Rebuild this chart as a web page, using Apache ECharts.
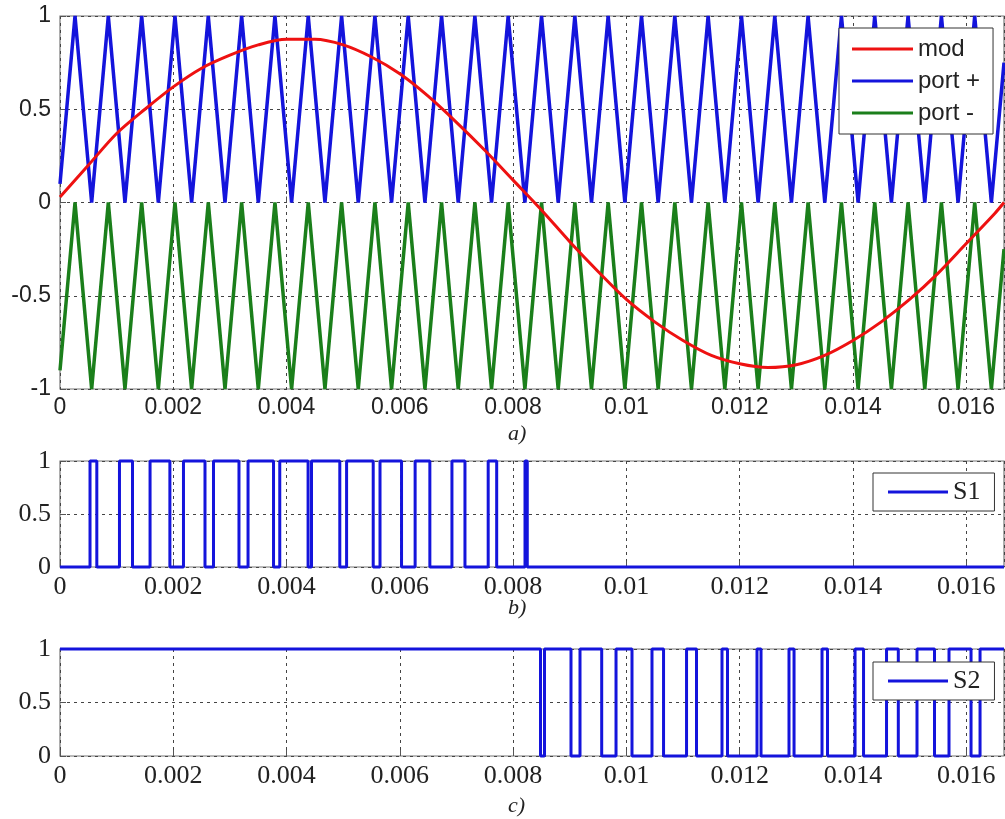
<!DOCTYPE html>
<html>
<head>
<meta charset="utf-8">
<title>PWM</title>
<script src="https://cdn.jsdelivr.net/npm/echarts@6/dist/echarts.min.js"></script>
<style>
  html, body { margin: 0; padding: 0; background: #fff; }
  #main { width: 1005px; height: 819px; }
</style>
</head>
<body>
<div id="main"></div>
<script>
// time axis (s), one period of 60 Hz
const T_END = 0.016667;
const xTicks = [0, 0.002, 0.004, 0.006, 0.008, 0.01, 0.012, 0.014, 0.016];

// modulating wave "mod"
const modT = [0, 0.0005, 0.001, 0.0015, 0.002, 0.0025, 0.003, 0.0035, 0.004, 0.0045,
  0.005, 0.0055, 0.006, 0.0065, 0.007, 0.0075, 0.008, 0.0085, 0.009, 0.0095,
  0.01, 0.0105, 0.011, 0.0115, 0.012, 0.0125, 0.013, 0.0135, 0.014, 0.0145,
  0.015, 0.0155, 0.016, 0.0165, 0.016667];
const modV = [0.03, 0.20, 0.37, 0.50, 0.62, 0.72, 0.79, 0.845, 0.875, 0.875,
  0.845, 0.78, 0.69, 0.57, 0.43, 0.28, 0.12, -0.04, -0.21, -0.37,
  -0.52, -0.64, -0.74, -0.82, -0.865, -0.885, -0.87, -0.82, -0.74, -0.64,
  -0.52, -0.38, -0.22, -0.06, 0.0];

// carrier corners (peaks / valleys)
const carrierT = [0,
  0.000265, 0.000559, 0.000853, 0.001147, 0.001442, 0.001736, 0.002030, 0.002324,
  0.002618, 0.002913, 0.003207, 0.003501, 0.003795, 0.004089, 0.004383, 0.004678,
  0.004972, 0.005266, 0.005560, 0.005854, 0.006148, 0.006443, 0.006737, 0.007031,
  0.007325, 0.007619, 0.007913, 0.008208, 0.008502, 0.008796, 0.009090, 0.009384,
  0.009678, 0.009973, 0.010267, 0.010561, 0.010855, 0.011149, 0.011443, 0.011738,
  0.012032, 0.012326, 0.012620, 0.012914, 0.013208, 0.013503, 0.013797, 0.014091,
  0.014385, 0.014679, 0.014973, 0.015268, 0.015562, 0.015856, 0.016150, 0.016444,
  0.016667];
const portPlusV = [0.1,
  1,0, 1,0, 1,0, 1,0, 1,0, 1,0, 1,0,
  1,0, 1,0, 1,0, 1,0, 1,0, 1,0, 1,0,
  1,0, 1,0, 1,0, 1,0, 1,0, 1,0, 1,0,
  1,0, 1,0, 1,0, 1,0, 1,0, 1,0, 1,0,
  0.75];
const portMinusV = [-0.9,
  0,-1, 0,-1, 0,-1, 0,-1, 0,-1, 0,-1, 0,-1,
  0,-1, 0,-1, 0,-1, 0,-1, 0,-1, 0,-1, 0,-1,
  0,-1, 0,-1, 0,-1, 0,-1, 0,-1, 0,-1, 0,-1,
  0,-1, 0,-1, 0,-1, 0,-1, 0,-1, 0,-1, 0,-1,
  -0.25];

// S1: pulses high (on/off times)
const s1On  = [0.00053, 0.00105, 0.00159, 0.00218, 0.00271, 0.00332, 0.00388,
  0.00444, 0.00506, 0.00565, 0.00627, 0.00692, 0.00756, 0.00821];
const s1Off = [0.00065, 0.00128, 0.00194, 0.00256, 0.00316, 0.00377, 0.00438,
  0.00494, 0.00553, 0.00603, 0.00653, 0.00715, 0.00771, 0.00825];

// S2: pulses low (off/on times)
const s2Off = [0.008484, 0.009022, 0.009564, 0.010099, 0.010656, 0.011238, 0.011785,
  0.012377, 0.012960, 0.013551, 0.014187, 0.014801, 0.015440, 0.016085];
const s2On  = [0.008554, 0.009181, 0.009817, 0.010452, 0.011062, 0.011688, 0.012306,
  0.012871, 0.013454, 0.014037, 0.014593, 0.015131, 0.015696, 0.016244];

function pairs(xs, ys) {
  return xs.map((x, i) => [x, ys[i]]);
}
// square wave from edge times
function pulses(base, up, down, level) {
  let d = [[0, base]];
  for (let i = 0; i < up.length; i++) {
    d.push([up[i], base], [up[i], level], [down[i], level], [down[i], base]);
  }
  d.push([T_END, base]);
  return d;
}

const SANS = '"Liberation Sans", Arial, sans-serif';
const SERIF = '"Liberation Serif", "Times New Roman", serif';
const grids = [
  { left: 60, top: 16, width: 944, height: 373 },
  { left: 60, top: 461, width: 944, height: 106 },
  { left: 60, top: 649, width: 944, height: 107 }
];
const fonts = [SANS, SERIF, SERIF];
const fsize = [23, 26, 26];

function xAxis(i) {
  return {
    type: 'value', gridIndex: i, min: 0, max: T_END, interval: 0.002,
    axisLine: { show: false },
    axisTick: { inside: true, length: 6, lineStyle: { color: '#555' } },
    axisLabel: {
      showMaxLabel: false, margin: 7, color: '#222',
      fontFamily: fonts[i], fontSize: fsize[i],
      formatter: v => String(+v.toFixed(3))
    },
    splitLine: { show: true, lineStyle: { color: '#444', type: [3, 4], width: 1 } }
  };
}
function yAxis(i, min, max) {
  return {
    type: 'value', gridIndex: i, min: min, max: max, interval: 0.5,
    axisLine: { show: false },
    axisTick: { inside: true, length: 6, lineStyle: { color: '#555' } },
    axisLabel: {
      margin: 9, color: '#222', fontFamily: fonts[i], fontSize: fsize[i],
      formatter: v => String(+v.toFixed(1))
    },
    splitLine: { show: true, lineStyle: { color: '#444', type: [3, 4], width: 1 } }
  };
}

const chart = echarts.init(document.getElementById('main'), null, { renderer: 'canvas' });
chart.setOption({
  animation: false,
  backgroundColor: '#fff',
  grid: grids.map(g => Object.assign({ show: true, borderColor: '#777', borderWidth: 1.2, backgroundColor: '#fff' }, g)),
  xAxis: [xAxis(0), xAxis(1), xAxis(2)],
  yAxis: [yAxis(0, -1, 1), yAxis(1, 0, 1), yAxis(2, 0, 1)],
  legend: [
    {
      data: ['mod', 'port +', 'port -'], orient: 'vertical', left: 839, top: 28,
      padding: [9, 13, 9, 13], itemGap: 8, itemWidth: 61, itemHeight: 3, icon: 'rect',
      borderColor: '#333', borderWidth: 1, backgroundColor: '#fff',
      textStyle: { fontFamily: SANS, fontSize: 24, color: '#222' }
    },
    {
      data: ['S1'], left: 873, top: 473, padding: [6, 14, 6, 15],
      itemWidth: 60, itemHeight: 3, icon: 'rect',
      borderColor: '#333', borderWidth: 1, backgroundColor: '#fff',
      textStyle: { fontFamily: SERIF, fontSize: 26, color: '#222' }
    },
    {
      data: ['S2'], left: 873, top: 662, padding: [6, 14, 6, 15],
      itemWidth: 60, itemHeight: 3, icon: 'rect',
      borderColor: '#333', borderWidth: 1, backgroundColor: '#fff',
      textStyle: { fontFamily: SERIF, fontSize: 26, color: '#222' }
    }
  ],
  graphic: [
    { type: 'text', left: 508, top: 423, style: { text: 'a)', font: 'italic 22px ' + SERIF, fill: '#222' } },
    { type: 'text', left: 508, top: 597, style: { text: 'b)', font: 'italic 22px ' + SERIF, fill: '#222' } },
    { type: 'text', left: 508, top: 795, style: { text: 'c)', font: 'italic 22px ' + SERIF, fill: '#222' } }
  ],
  series: [
    {
      name: 'port +', type: 'line', xAxisIndex: 0, yAxisIndex: 0, symbol: 'none',
      data: pairs(carrierT, portPlusV), color: '#1414dc',
      lineStyle: { width: 3.5 }, z: 2
    },
    {
      name: 'port -', type: 'line', xAxisIndex: 0, yAxisIndex: 0, symbol: 'none',
      data: pairs(carrierT, portMinusV), color: '#1b7f1b',
      lineStyle: { width: 3.5 }, z: 2
    },
    {
      name: 'mod', type: 'line', xAxisIndex: 0, yAxisIndex: 0, symbol: 'none',
      data: pairs(modT, modV), color: '#ee1111', smooth: 0.3,
      lineStyle: { width: 3 }, z: 3
    },
    {
      name: 'S1', type: 'line', xAxisIndex: 1, yAxisIndex: 1, symbol: 'none',
      data: pulses(0, s1On, s1Off, 1), color: '#1414dc',
      lineStyle: { width: 3 }, clip: false
    },
    {
      name: 'S2', type: 'line', xAxisIndex: 2, yAxisIndex: 2, symbol: 'none',
      data: pulses(1, s2Off, s2On, 0), color: '#1414dc',
      lineStyle: { width: 3 }, clip: false
    }
  ]
});
</script>
</body>
</html>
